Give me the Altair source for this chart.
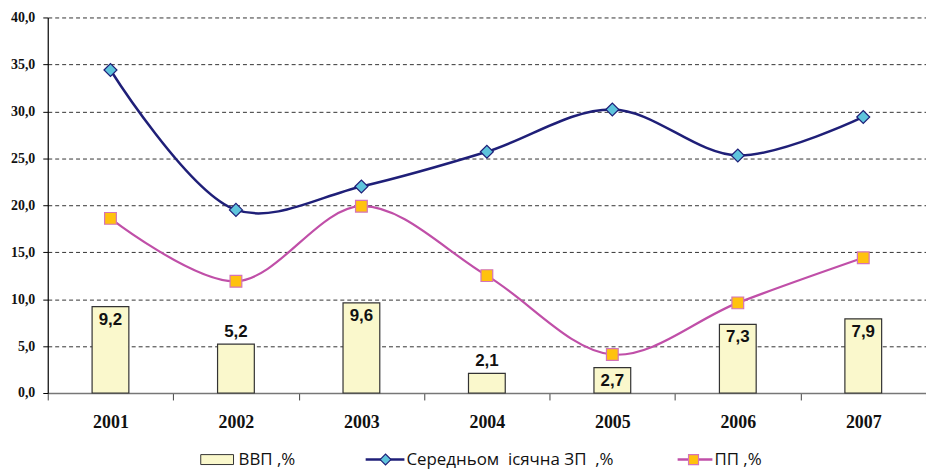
import altair as alt
import pandas as pd

years = ["2001", "2002", "2003", "2004", "2005", "2006", "2007"]
gdp = [9.2, 5.2, 9.6, 2.1, 2.7, 7.3, 7.9]
salary = [34.4, 19.5, 22.0, 25.7, 30.2, 25.3, 29.4]
pp = [18.6, 11.9, 19.9, 12.5, 4.1, 9.6, 14.4]

label_gdp = "ВВП ,%"
label_sal = "Середньом\u00a0 ісячна ЗП\u00a0 ,%"
label_pp = "ПП ,%"

df = pd.DataFrame({"year": years, "gdp": gdp, "salary": salary, "pp": pp})

W, H = 884, 378
NAVY = "#1F1F78"
CYAN = "#5EC4DC"
MAG = "#C04FA8"
GOLD = "#FFC20E"
BARFILL = "#FAF8CC"

comma = "replace(format(datum.value, '.1f'), '.', ',')"

x = alt.X("year:N", sort=years, title=None,
          axis=alt.Axis(labelAngle=0, labelFont="Liberation Serif", labelFontWeight="bold",
                        labelFontSize=18, labelColor="#111", tickBand="extent", ticks=True,
                        tickSize=7, tickColor="#444", domainColor="#777", domainWidth=1.5,
                        labelPadding=14, grid=False))
yscale = alt.Scale(domain=[0, 40], nice=False)
yaxis = alt.Axis(values=list(range(0, 45, 5)), labelExpr=comma, labelFont="Liberation Serif",
                 labelFontWeight="bold", labelFontSize=14, labelColor="#111", grid=True,
                 gridDash=[4, 3], gridColor="#333", gridWidth=1, domainColor="#000",
                 domainWidth=1.2, tickSize=5, tickColor="#000", labelPadding=8)

base = alt.Chart(df)

bars = base.mark_bar(size=37, fill=BARFILL, stroke="#333", strokeWidth=1.2).encode(
    x=x, y=alt.Y("gdp:Q", scale=yscale, axis=yaxis, title=None))

lbl = base.transform_calculate(t="replace(format(datum.gdp, '.1f'), '.', ',')")
inside = lbl.transform_filter("datum.year != '2002' && datum.year != '2004'").mark_text(
    baseline="top", dy=5, font="Liberation Sans", fontWeight="bold", fontSize=17, color="#111"
).encode(x=alt.X("year:N", sort=years), y=alt.Y("gdp:Q", scale=yscale), text="t:N")
above = lbl.transform_filter("datum.year == '2002' || datum.year == '2004'").mark_text(
    baseline="bottom", dy=-3, font="Liberation Sans", fontWeight="bold", fontSize=17, color="#111"
).encode(x=alt.X("year:N", sort=years), y=alt.Y("gdp:Q", scale=yscale), text="t:N")

sal_line = base.mark_line(interpolate="catmull-rom", color=NAVY, strokeWidth=2.5).encode(
    x=alt.X("year:N", sort=years), y=alt.Y("salary:Q", scale=yscale))
sal_pts = base.mark_point(shape="diamond", size=170, filled=True, fill=CYAN, stroke=NAVY,
                          strokeWidth=1.2, opacity=1).encode(
    x=alt.X("year:N", sort=years), y=alt.Y("salary:Q", scale=yscale))
pp_line = base.mark_line(interpolate="catmull-rom", color=MAG, strokeWidth=2.2).encode(
    x=alt.X("year:N", sort=years), y=alt.Y("pp:Q", scale=yscale))
pp_pts = base.mark_point(shape="square", size=140, filled=True, fill=GOLD, stroke="#D474B8",
                         strokeWidth=1.2, opacity=1).encode(
    x=alt.X("year:N", sort=years), y=alt.Y("pp:Q", scale=yscale))

# manual legend
LY = H + 67
LFONT = "Open Sans"
LSIZE = 17
one = alt.Chart(pd.DataFrame({"a": [0]}))
legend_layers = [
    one.mark_rect(fill=BARFILL, stroke="#333", strokeWidth=1).encode(
        x=alt.value(154), x2=alt.value(187), y=alt.value(LY - 5), y2=alt.value(LY + 5)),
    one.mark_text(align="left", baseline="middle", font=LFONT, fontSize=LSIZE, color="#111",
                  text=label_gdp).encode(x=alt.value(192), y=alt.value(LY)),
    one.mark_rule(color=NAVY, strokeWidth=2.5).encode(
        x=alt.value(320), x2=alt.value(359), y=alt.value(LY)),
    one.mark_point(shape="diamond", size=120, filled=True, fill=CYAN, stroke=NAVY,
                   strokeWidth=1.2, opacity=1).encode(x=alt.value(340), y=alt.value(LY)),
    one.mark_text(align="left", baseline="middle", font=LFONT, fontSize=LSIZE, color="#111",
                  text=label_sal).encode(x=alt.value(361), y=alt.value(LY)),
    one.mark_rule(color=MAG, strokeWidth=2.5).encode(
        x=alt.value(634), x2=alt.value(669), y=alt.value(LY)),
    one.mark_point(shape="square", size=100, filled=True, fill=GOLD, stroke="#D474B8",
                   strokeWidth=1.2, opacity=1).encode(x=alt.value(650), y=alt.value(LY)),
    one.mark_text(align="left", baseline="middle", font=LFONT, fontSize=LSIZE, color="#111",
                  text=label_pp).encode(x=alt.value(671), y=alt.value(LY)),
]

chart = alt.layer(bars, inside, above, sal_line, pp_line, sal_pts, pp_pts, *legend_layers).properties(
    width=W, height=H, autosize=alt.AutoSizeParams(type="none"),
    padding={"left": 40, "top": 8, "right": 0, "bottom": 80}
).configure_view(stroke=None).configure_scale(bandPaddingInner=0, bandPaddingOuter=0)

chart.save("out.html", embed_options={"renderer": "svg", "actions": False})
